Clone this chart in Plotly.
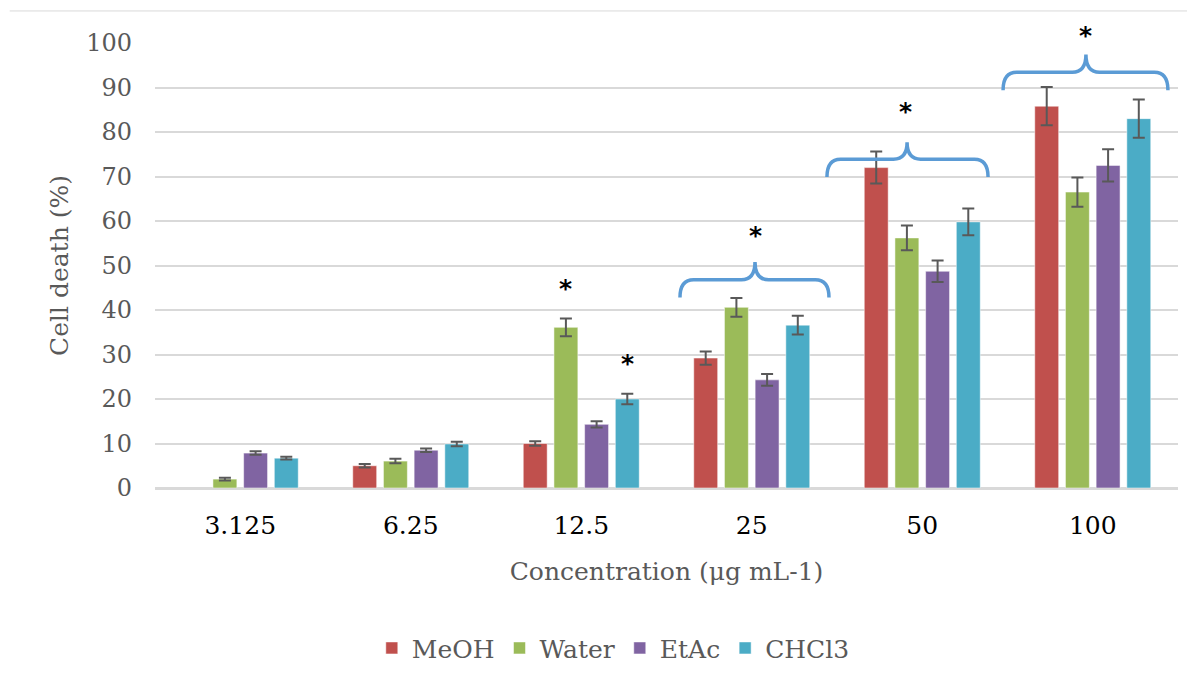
import plotly.graph_objects as go

categories = ["3.125", "6.25", "12.5", "25", "50", "100"]
series_names = ["MeOH", "Water", "EtAc", "CHCl3"]
colors = ["#C0504D", "#9BBB59", "#8064A2", "#4BACC6"]

meoh = [None, 5.0, 10.0, 29.2, 72.0, 85.8]
water = [2.0, 6.05, 36.1, 40.6, 56.2, 66.5]
etac = [7.85, 8.5, 14.3, 24.3, 48.7, 72.5]
chcl3 = [6.7, 9.9, 20.0, 36.6, 59.8, 83.0]

meoh_err = [None, 0.4, 0.5, 1.5, 3.6, 4.3]
water_err = [0.3, 0.5, 2.0, 2.1, 2.8, 3.3]
etac_err = [0.4, 0.4, 0.7, 1.3, 2.4, 3.6]
chcl3_err = [0.3, 0.5, 1.2, 2.1, 3.0, 4.3]

values = [meoh, water, etac, chcl3]
errors = [meoh_err, water_err, etac_err, chcl3_err]

# significance braces: (left x, tip x, right x, end y, mid y, tip y)
brace_left = [2.579, 3.441, 4.474]
brace_tip = [3.019, 3.911, 4.960]
brace_right = [3.453, 4.386, 5.441]
brace_end_y = [42.8, 69.9, 89.4]
brace_mid_y = [46.8, 73.9, 93.4]
brace_tip_y = [50.8, 77.7, 97.4]

# asterisks (x position, y level in % units)
star_x = [1.91, 2.27, 3.02, 3.90, 4.96]
star_y = [44.8, 28.0, 56.7, 84.7, 101.7]

x_idx = list(range(len(categories)))
Y_MAX = 100

fig = go.Figure()
for name, vals, errs, col in zip(series_names, values, errors, colors):
    fig.add_trace(go.Bar(
        x=x_idx, y=vals, name=name,
        marker=dict(color=col, line=dict(color="rgba(255,255,255,0.5)", width=1)),
        error_y=dict(type="data", array=errs, visible=True,
                     color="#595959", thickness=2, width=6),
    ))

font_family = "DejaVu Serif"
grey = "#595959"

shapes = []
r = 0.08
for x0, xm, x1, ye, ym, yt in zip(brace_left, brace_tip, brace_right,
                                  brace_end_y, brace_mid_y, brace_tip_y):
    path = (f"M {x0},{ye} Q {x0},{ym} {x0 + r},{ym} "
            f"L {xm - r},{ym} Q {xm},{ym} {xm},{yt} "
            f"Q {xm},{ym} {xm + r},{ym} "
            f"L {x1 - r},{ym} Q {x1},{ym} {x1},{ye}")
    shapes.append(dict(type="path", path=path, xref="x", yref="y",
                       line=dict(color="#5B9BD5", width=3.5), layer="above"))

# chart border top line
shapes.append(dict(type="line", xref="paper", yref="paper",
                   x0=-0.142, x1=1.012, y0=1.072, y1=1.072,
                   line=dict(color="#d9d9d9", width=1)))

annotations = []
for sx, sy in zip(star_x, star_y):
    annotations.append(dict(x=sx, y=sy / Y_MAX, xref="x", yref="paper", text="<b>*</b>",
                            showarrow=False, font=dict(family="DejaVu Sans", size=25, color="black"),
                            yanchor="middle"))

fig.update_layout(
    width=1195, height=684,
    margin=dict(l=147, r=25, t=35, b=204),
    paper_bgcolor="white", plot_bgcolor="white",
    barmode="group", bargap=0.28, bargroupgap=0.22,
    font=dict(family=font_family, color=grey),
    showlegend=True,
    legend=dict(orientation="h", x=0.448, xanchor="center", y=-0.36, yanchor="middle",
                font=dict(size=25, family=font_family, color=grey),
                itemwidth=30, traceorder="normal"),
    shapes=shapes, annotations=annotations,
    xaxis=dict(
        range=[-0.5, 5.5], tickmode="array", tickvals=x_idx, ticktext=categories,
        showgrid=False, zeroline=False, showline=True, linecolor="#d9d9d9", linewidth=1.5,
        ticks="", tickfont=dict(size=25, color="black", family=font_family),
        ticklabelstandoff=14,
        title=dict(text="Concentration (μg mL-1)", font=dict(size=25, color=grey, family=font_family),
                   standoff=24),
    ),
    yaxis=dict(
        range=[0, Y_MAX], tickmode="array", tickvals=list(range(0, 101, 10)),
        showgrid=True, gridcolor="#d9d9d9", gridwidth=1.5,
        zeroline=True, zerolinecolor="#d9d9d9", zerolinewidth=1.5,
        ticks="", tickfont=dict(size=24, color=grey, family=font_family),
        ticklabelstandoff=22,
        title=dict(text="Cell death (%)", font=dict(size=25, color=grey, family=font_family),
                   standoff=10),
    ),
)

fig.write_html("out.html")
